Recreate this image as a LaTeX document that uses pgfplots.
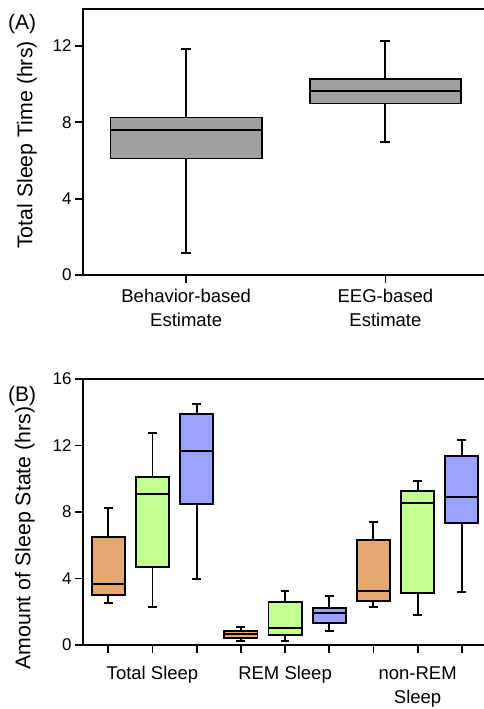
\documentclass[border=0pt]{standalone}
\usepackage{fontspec}
\setmainfont{Liberation Sans}
\usepackage{pgfplots}
\pgfplotsset{compat=1.18}
\usepgfplotslibrary{statistics}
\definecolor{boxgray}{RGB}{160,160,160}
\definecolor{orng}{RGB}{228,168,112}
\definecolor{grn}{RGB}{194,255,146}
\definecolor{blu}{RGB}{154,162,255}
\pgfplotsset{
  common/.style={
    scale only axis, width=404pt, height=266pt,
    axis line style={line width=1.8pt},
    tick style={line width=1.8pt, black},
    tick align=outside,
    major tick length=8pt,
    xtick pos=bottom, ytick pos=left,
    boxplot/draw direction=y,
    boxplot/every box/.style={draw=black, line width=1.9pt},
    boxplot/every whisker/.style={draw=black, line width=1.9pt},
    boxplot/every median/.style={draw=black, line width=1.9pt},
    /pgf/number format/assume math mode=true,
    yticklabel style={font=\fontsize{17}{20}\selectfont},
    xticklabel style={font=\fontsize{18.5}{24}\selectfont, align=center},
    every axis y label/.style={rotate=90, anchor=center, font=\fontsize{21.3}{24}\selectfont},
  },
  bx/.style={draw=black, line width=1.9pt},
}
\begin{document}
\begin{tikzpicture}[x=1pt,y=1pt]
% Panel A
\begin{axis}[common,
  at={(83pt,434pt)}, anchor=south west,
  xmin=-0.518, xmax=1.51, ymin=0, ymax=13.93,
  ytick={0,4,8,12},
  xtick={0,1},
  xticklabels={{Behavior-based\\Estimate},{EEG-based\\Estimate}},
  xticklabel style={yshift=-3pt},
  ylabel={Total Sleep Time (hrs)},
  ylabel style={at={(axis description cs:-0.139,0.489)}},
]
\addplot[bx, fill=boxgray, boxplot prepared={draw position=0, lower whisker=1.13, lower quartile=6.10, median=7.59, upper quartile=8.25, upper whisker=11.85, box extend=0.76, whisker extend=0.05}] coordinates {};
\addplot[bx, fill=boxgray, boxplot prepared={draw position=1, lower whisker=6.95, lower quartile=8.98, median=9.63, upper quartile=10.26, upper whisker=12.27, box extend=0.76, whisker extend=0.05}] coordinates {};
\end{axis}
% Panel B
\begin{axis}[common,
  at={(83pt,64pt)}, anchor=south west,
  xmin=0.427, xmax=9.57, ymin=0, ymax=16,
  ytick={0,4,8,12,16},
  xtick={1,2,3,4,5,6,7,8,9},
  xticklabels={},
  extra x ticks={2,5,8},
  extra x tick labels={Total Sleep,REM Sleep,{non-REM\\Sleep}},
  extra x tick style={xticklabel style={yshift=-10pt}},
  ylabel={Amount of Sleep State (hrs)},
  ylabel style={at={(axis description cs:-0.1436,0.402)}},
]
% Total Sleep
\addplot[bx, fill=orng, boxplot prepared={draw position=1, lower whisker=2.51, lower quartile=3.01, median=3.67, upper quartile=6.50, upper whisker=8.26, box extend=0.75, whisker extend=0.2}] coordinates {};
\addplot[bx, fill=grn, boxplot prepared={draw position=2, lower whisker=2.27, lower quartile=4.71, median=9.10, upper quartile=10.13, upper whisker=12.77, box extend=0.75, whisker extend=0.2}] coordinates {};
\addplot[bx, fill=blu, boxplot prepared={draw position=3, lower whisker=3.95, lower quartile=8.48, median=11.65, upper quartile=13.91, upper whisker=14.48, box extend=0.75, whisker extend=0.2}] coordinates {};
% REM Sleep
\addplot[bx, fill=orng, boxplot prepared={draw position=4, lower whisker=0.24, lower quartile=0.44, median=0.65, upper quartile=0.86, upper whisker=1.06, box extend=0.75, whisker extend=0.2}] coordinates {};
\addplot[bx, fill=grn, boxplot prepared={draw position=5, lower whisker=0.22, lower quartile=0.58, median=1.02, upper quartile=2.59, upper whisker=3.25, box extend=0.75, whisker extend=0.2}] coordinates {};
\addplot[bx, fill=blu, boxplot prepared={draw position=6, lower whisker=0.82, lower quartile=1.32, median=1.94, upper quartile=2.25, upper whisker=2.97, box extend=0.75, whisker extend=0.2}] coordinates {};
% non-REM Sleep
\addplot[bx, fill=orng, boxplot prepared={draw position=7, lower whisker=2.31, lower quartile=2.67, median=3.27, upper quartile=6.34, upper whisker=7.42, box extend=0.75, whisker extend=0.2}] coordinates {};
\addplot[bx, fill=grn, boxplot prepared={draw position=8, lower whisker=1.82, lower quartile=3.11, median=8.52, upper quartile=9.26, upper whisker=9.84, box extend=0.75, whisker extend=0.2}] coordinates {};
\addplot[bx, fill=blu, boxplot prepared={draw position=9, lower whisker=3.21, lower quartile=7.36, median=8.90, upper quartile=11.35, upper whisker=12.35, box extend=0.75, whisker extend=0.2}] coordinates {};
\end{axis}
\node[anchor=base west, font=\fontsize{21}{24}\selectfont, inner sep=0pt] at (8pt,679.5pt) {(A)};
\node[anchor=base west, font=\fontsize{21}{24}\selectfont, inner sep=0pt] at (8pt,307.3pt) {(B)};
\pgfresetboundingbox
\useasboundingbox (0,0) rectangle (484pt,709pt);
\end{tikzpicture}
\end{document}
